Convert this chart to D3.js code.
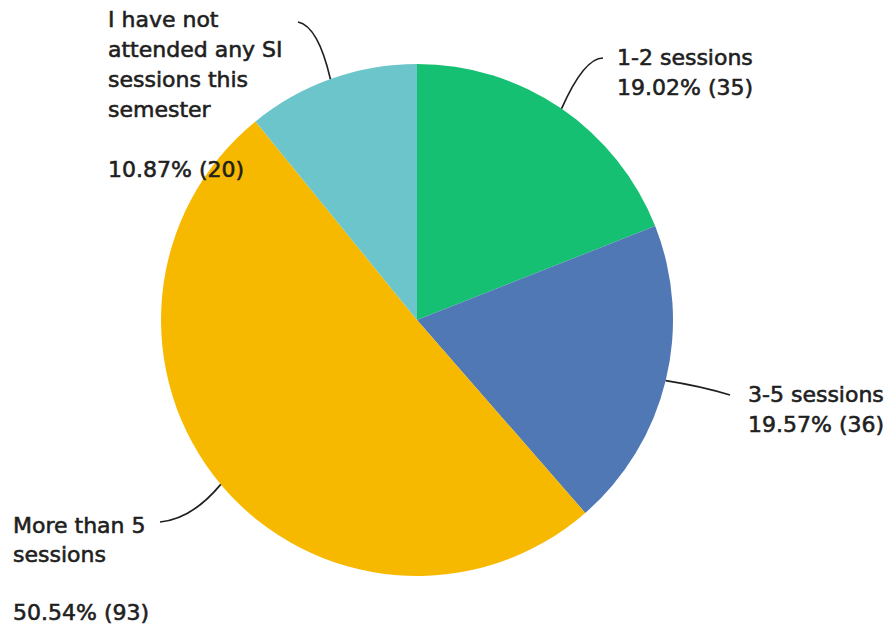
<!DOCTYPE html>
<html>
<head>
<meta charset="utf-8">
<script src="https://cdn.jsdelivr.net/npm/d3@7"></script>
<style>
  html, body { margin: 0; padding: 0; background: #fff; }
  svg text { font-family: "DejaVu Sans", sans-serif; font-weight: 400; fill: #1f1f1f; stroke: #1f1f1f; stroke-width: 0.6; }
</style>
</head>
<body>
<svg id="chart" width="891" height="629"></svg>
<script>
// Survey responses: SI session attendance this semester
const categories = ["1-2 sessions", "3-5 sessions", "More than 5 sessions", "I have not attended any SI sessions this semester"];
const counts = [35, 36, 93, 20];
const percents = ["19.02%", "19.57%", "50.54%", "10.87%"];
const colors = ["#16c072", "#4f78b5", "#f7b900", "#6dc5cc"];

// Label text lines per category (name lines, blank spacer, value line)
const labelLines = [
  ["1-2 sessions", `${percents[0]} (${counts[0]})`],
  ["3-5 sessions", `${percents[1]} (${counts[1]})`],
  ["More than 5", "sessions", "", `${percents[2]} (${counts[2]})`],
  ["I have not", "attended any SI", "sessions this", "semester", "", `${percents[3]} (${counts[3]})`]
];

const svg = d3.select("#chart");
const cx = 417, cy = 320, r = 256;

const pie = d3.pie().sort(null).value(d => d)(counts);
const arc = d3.arc().innerRadius(0).outerRadius(r);

const g = svg.append("g").attr("transform", `translate(${cx},${cy})`);
g.selectAll("path.slice")
  .data(pie)
  .join("path")
  .attr("class", "slice")
  .attr("d", arc)
  .attr("fill", (d, i) => colors[i]);

// Leader lines: anchor angle on the rim, end point near the label, curve control point
const leaders = [
  { angle: 0.60, end: [603, 58], ctrl: [584, 58] },
  { angle: 1.81, end: [730, 395], ctrl: [700, 386] },
  { angle: 4.015, end: [160, 522], ctrl: [192, 519] },
  { angle: -0.345, end: [298, 22], ctrl: [318, 26] }
];
const labelPos = [
  { x: 617, y: 65, lh: 30 },
  { x: 748, y: 402, lh: 30 },
  { x: 13, y: 533, lh: 29 },
  { x: 108, y: 27, lh: 30 }
];

leaders.forEach(L => {
  const sx = cx + r * Math.sin(L.angle);
  const sy = cy - r * Math.cos(L.angle);
  const p = d3.path();
  p.moveTo(sx, sy);
  p.quadraticCurveTo(L.ctrl[0], L.ctrl[1], L.end[0], L.end[1]);
  svg.append("path")
    .attr("d", p.toString())
    .attr("fill", "none")
    .attr("stroke", "#1f1f1f")
    .attr("stroke-width", 1.7);
});

labelLines.forEach((lines, i) => {
  const pos = labelPos[i];
  const t = svg.append("text").attr("font-size", 22);
  lines.forEach((ln, j) => {
    if (ln === "") return;
    t.append("tspan")
      .attr("x", pos.x)
      .attr("y", pos.y + j * pos.lh)
      .text(ln);
  });
});
</script>
</body>
</html>
